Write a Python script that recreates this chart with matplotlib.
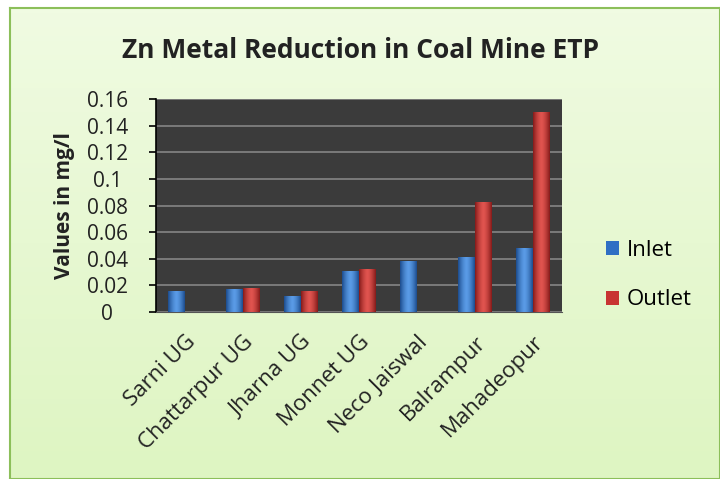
import numpy as np
import matplotlib.pyplot as plt
from matplotlib.colors import LinearSegmentedColormap, to_rgb

sites = ['Sarni UG', 'Chattarpur UG', 'Jharna UG', 'Monnet UG',
         'Neco Jaiswal', 'Balrampur', 'Mahadeopur']
inlet = [0.016, 0.017, 0.012, 0.031, 0.038, 0.041, 0.048]
outlet = [0, 0.018, 0.016, 0.032, 0, 0.083, 0.150]
y_ticks = [0, 0.02, 0.04, 0.06, 0.08, 0.1, 0.12, 0.14, 0.16]

plt.rcParams['font.family'] = ['Open Sans', 'DejaVu Sans']

fig = plt.figure(figsize=(7.2, 4.79), dpi=100)
fig.patch.set_facecolor('white')

# chart frame with a soft green gradient, behind everything
bg = fig.add_axes([10 / 720, 0, 1 - 10 / 720, 1 - 8 / 479], zorder=-1)
top_c, bot_c = np.array(to_rgb('#f0fbe2')), np.array(to_rgb('#def5c2'))
grad = np.linspace(0, 1, 100)[:, None, None]
bg.imshow(top_c * (1 - grad) + bot_c * grad, aspect='auto', extent=[0, 1, 0, 1])
bg.set_xticks([])
bg.set_yticks([])
for s in bg.spines.values():
    s.set_color('#8cbf5a')
    s.set_linewidth(1.5)

ax = fig.add_axes([156 / 720, 1 - 312 / 479, 406 / 720, 213 / 479])
ax.set_facecolor('#3b3b3b')

x = np.arange(len(sites))
w = 0.285
blue_bars = ax.bar(x - w / 2, inlet, w, color='#2f6fc4', linewidth=0, label='Inlet', zorder=3)
red_bars = ax.bar(x + w / 2, outlet, w, color='#c83432', linewidth=0, label='Outlet', zorder=3)

# cylinder-like shading on each bar
shade = np.abs(np.linspace(-1, 1, 50)) ** 1.5
for bars, edge, mid in [(blue_bars, '#1d4d8e', '#5a9be6'), (red_bars, '#861b1a', '#e0544f')]:
    cmap = LinearSegmentedColormap.from_list('s', [mid, edge])
    for b in bars:
        if b.get_height() <= 0:
            continue
        x0, h = b.get_x(), b.get_height()
        im = ax.imshow(shade[None, :], cmap=cmap, aspect='auto', zorder=4,
                       extent=[x0, x0 + b.get_width(), 0, h], vmin=0, vmax=1)
        im.set_clip_path(b)

ax.set_xlim(-0.5, len(sites) - 0.5)
ax.set_ylim(0, 0.16)
ax.set_yticks(y_ticks)
ax.set_yticklabels([f'{t:g}' for t in y_ticks], fontsize=15, color='#222222')
for lab in ax.get_yticklabels():
    lab.set_ha('center')
ax.yaxis.grid(True, color='#858585', linewidth=1.2, zorder=0)
ax.set_xticks(x)
ax.set_xticklabels(sites, rotation=45, ha='right', rotation_mode='anchor', fontsize=16, color='#222222')
ax.tick_params(axis='x', length=0, pad=14)
ax.tick_params(axis='y', length=5, width=1.2, direction='out', pad=30)

for s in ['top', 'right']:
    ax.spines[s].set_visible(False)
ax.spines['left'].set_color('black')
ax.spines['left'].set_linewidth(1.2)
ax.spines['bottom'].set_color('#555555')

ax.set_ylabel('Values in mg/l', fontsize=15, fontweight='bold', color='#222222')
ax.yaxis.set_label_coords(-0.2, 0.5)
fig.text(0.5, 1 - 50 / 479, 'Zn Metal Reduction in Coal Mine ETP', ha='center', va='center',
         fontsize=19, fontweight='bold', color='#222222')

fig.legend(loc='center left', bbox_to_anchor=(586 / 720, 1 - 275 / 479), frameon=False,
           fontsize=16, handlelength=0.6, handleheight=0.6, labelspacing=1.3, handletextpad=0.35)

fig.savefig('out.png', dpi=100, facecolor=fig.get_facecolor())
